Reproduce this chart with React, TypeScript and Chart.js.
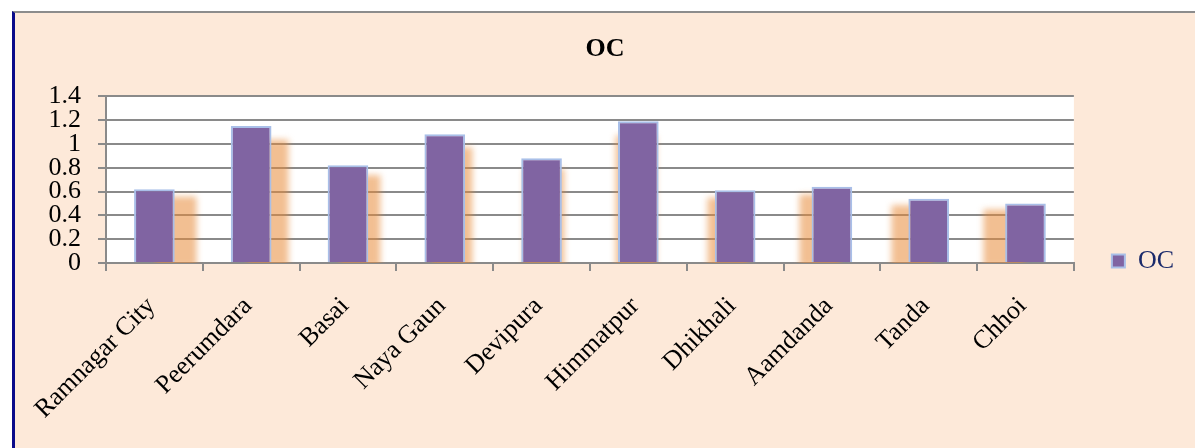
import { useEffect, useRef } from "react";
import { Chart, registerables } from "chart.js";

Chart.register(...registerables);

// Villages along the x axis
const categories = [
  "Ramnagar City",
  "Peerumdara",
  "Basai",
  "Naya Gaun",
  "Devipura",
  "Himmatpur",
  "Dhikhali",
  "Aamdanda",
  "Tanda",
  "Chhoi",
];

// OC value for each village
const ocValues = [0.62, 1.15, 0.82, 1.08, 0.88, 1.19, 0.61, 0.64, 0.54, 0.5];

const seriesName = "OC";
const chartTitle = "OC";

// Value axis range and step
const yMin = 0;
const yMax = 1.4;
const yStep = 0.2;

const SERIF = '"Liberation Serif", "Times New Roman", serif';
const GRID = "#8A8A8A";

// Paints the chart's paper and the white plot area
const paperPlugin = {
  id: "paper",
  beforeDraw(chart: any) {
    const { ctx, chartArea: a, width, height } = chart;
    ctx.save();
    ctx.fillStyle = "#FDE9D9";
    ctx.fillRect(0, 0, width, height);
    ctx.fillStyle = "#FFFFFF";
    ctx.fillRect(a.left, a.top, a.right - a.left, a.bottom - a.top);
    ctx.restore();
  },
};

// Soft orange perspective shadow behind each bar, leaning toward the plot centre
const perspectiveShadow = {
  id: "perspectiveShadow",
  beforeDatasetsDraw(chart: any) {
    const { ctx, chartArea: a } = chart;
    const meta = chart.getDatasetMeta(0);
    const yScale = chart.scales.y;
    const base = yScale.getPixelForValue(0);
    const cx = (a.left + a.right) / 2;
    const values = chart.data.datasets[0].data as number[];
    ctx.save();
    ctx.beginPath();
    ctx.rect(a.left, a.top, a.right - a.left, a.bottom - a.top);
    ctx.clip();
    ctx.filter = "blur(3px)";
    ctx.fillStyle = "rgba(232, 138, 56, 0.55)";
    meta.data.forEach((bar: any, i: number) => {
      const { x, width } = bar.getProps(["x", "width"], true);
      const top = yScale.getPixelForValue(values[i] * 0.9);
      const dx = (cx - x) * 0.05;
      ctx.fillRect(x - width / 2 + dx, top, width, base - top + 4);
    });
    ctx.restore();
  },
};

export default function App() {
  const ref = useRef<HTMLCanvasElement>(null);

  useEffect(() => {
    const chart = new Chart(ref.current as HTMLCanvasElement, {
      type: "bar",
      data: {
        labels: categories,
        datasets: [
          {
            label: seriesName,
            data: ocValues,
            backgroundColor: "#8064A2",
            borderColor: "#A9BFE8",
            borderWidth: 2,
            barPercentage: 0.42,
            categoryPercentage: 1,
          },
        ],
      },
      options: {
        animation: false,
        responsive: false,
        devicePixelRatio: 1,
        layout: { padding: { left: 11, right: 11, top: 0, bottom: 0 } },
        plugins: {
          title: {
            display: true,
            text: chartTitle,
            color: "#000000",
            font: { family: SERIF, size: 26, weight: "bold" },
            padding: { top: 21, bottom: 31 },
          },
          legend: {
            position: "right",
            align: "center",
            title: {
              display: true,
              text: " ",
              font: { size: 10 },
              padding: { top: 49, bottom: 0 },
            },
            labels: {
              boxWidth: 13,
              boxHeight: 13,
              padding: 38,
              color: "#1B2A6B",
              font: { family: SERIF, size: 26 },
            },
          },
          tooltip: { enabled: false },
        },
        scales: {
          x: {
            offset: true,
            grid: {
              drawOnChartArea: false,
              color: GRID,
              lineWidth: 2,
              tickLength: 8,
              offset: true,
            },
            border: { color: GRID, width: 2 },
            ticks: {
              autoSkip: false,
              minRotation: 45,
              maxRotation: 45,
              padding: 20,
              labelOffset: -3,
              color: "#000000",
              font: { family: SERIF, size: 26 },
            },
            afterFit: (scale: any) => {
              scale.height = 185;
            },
          },
          y: {
            min: yMin,
            max: yMax,
            grid: { color: GRID, lineWidth: 2, tickLength: 8 },
            border: { color: GRID, width: 2 },
            ticks: {
              stepSize: yStep,
              autoSkip: false,
              padding: 17,
              color: "#000000",
              font: { family: SERIF, size: 26 },
              callback: (v: any) => String(Number(Number(v).toFixed(1))),
            },
            afterFit: (scale: any) => {
              scale.width = 80;
            },
          },
        },
      },
      plugins: [paperPlugin, perspectiveShadow],
    });
    return () => chart.destroy();
  }, []);

  return (
    <div
      style={{
        position: "fixed",
        left: 0,
        top: 0,
        width: 1195,
        height: 448,
        overflow: "hidden",
        background: "#FFFFFF",
      }}
    >
      <div
        style={{
          position: "absolute",
          left: 12,
          top: 11,
          width: 1183,
          height: 437,
          boxSizing: "border-box",
          borderLeft: "3px solid #0B0B8A",
          borderTop: "2px solid #8C8C8C",
          background: "#FDE9D9",
        }}
      >
        <canvas
          ref={ref}
          width={1180}
          height={435}
          style={{ display: "block", width: 1180, height: 435 }}
        />
      </div>
    </div>
  );
}
